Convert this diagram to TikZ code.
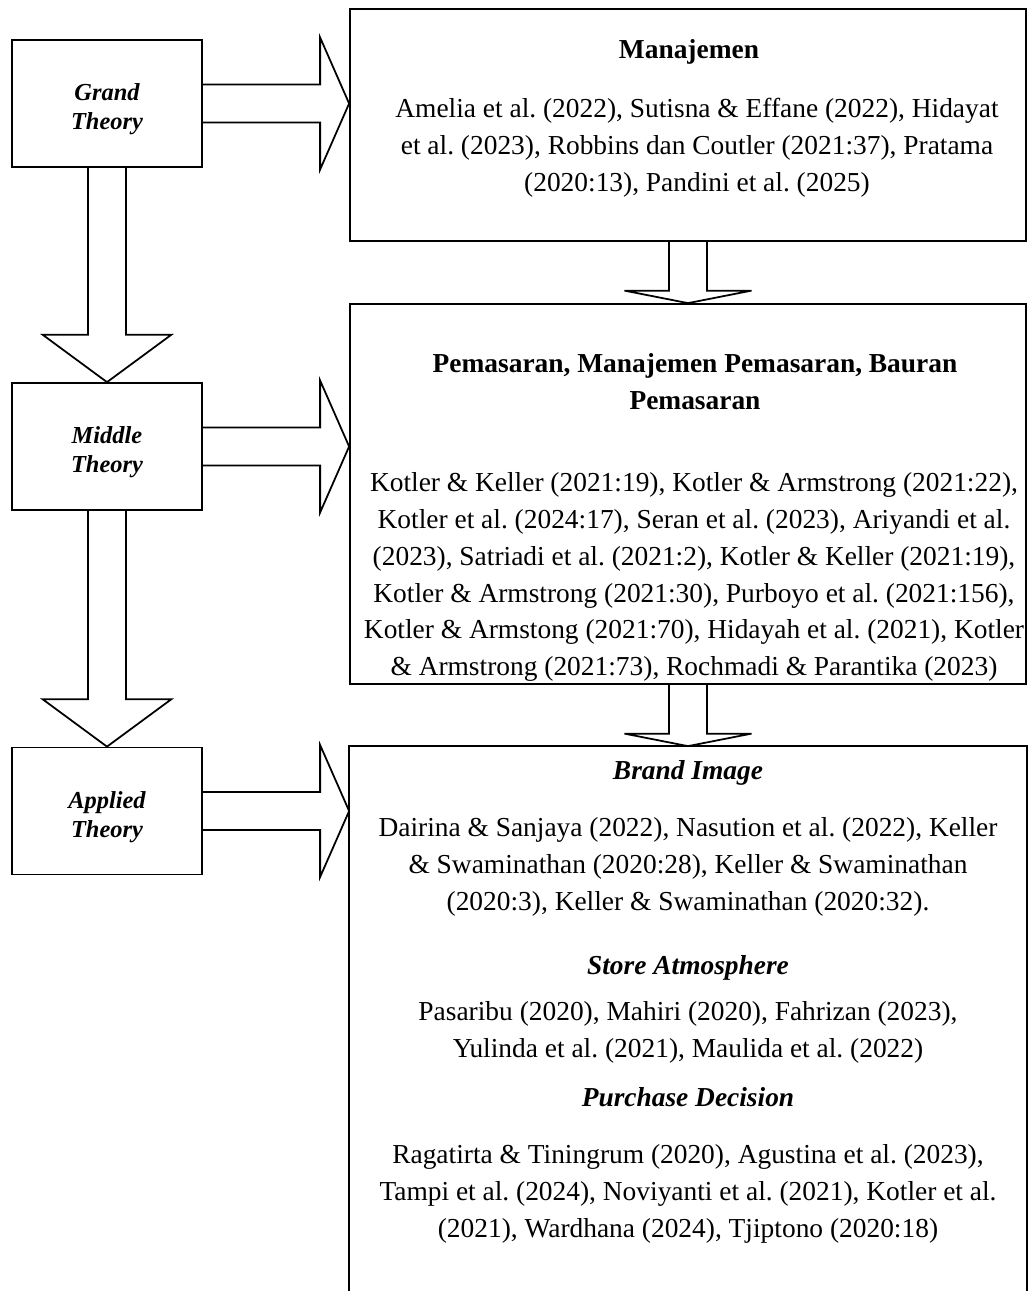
\documentclass[tikz,border=0pt]{standalone}
\usepackage{fontspec}
\setmainfont{Liberation Serif}
\usetikzlibrary{calc}
\frenchspacing

\tikzset{
  theorybox/.style={draw, line width=1pt, minimum width=3.8cm, minimum height=2.54cm, align=center, font=\fontsize{13.9}{16.5}\selectfont\bfseries\itshape},
  refbox/.style={draw, line width=1pt, minimum width=13.52cm},
  reftext/.style={align=center, inner sep=0pt, font=\fontsize{15.6}{21}\selectfont},
  reftitle/.style={reftext, font=\fontsize{15.6}{21}\selectfont\bfseries},
  vartitle/.style={reftext, font=\fontsize{15.6}{21}\selectfont\bfseries\itshape},
  blockarrow/.style={draw, line width=1pt, line join=miter}
}

\begin{document}
\begin{tikzpicture}
\useasboundingbox (0,0) rectangle (20.64,-25.82);
% theory levels
\node[theorybox] (grand) at (2.14,-2.07) {\rule{0pt}{0.57cm}Grand\\Theory};
\node[theorybox] (middle) at (2.14,-8.93) {\rule{0pt}{0.57cm}Middle\\Theory};
\node[theorybox] (applied) at (2.14,-16.22) {\rule{0pt}{0.57cm}Applied\\Theory};
% references
\node[refbox, minimum height=4.64cm] (mgmt) at (13.76,-2.5) {};
\node[refbox, minimum height=7.6cm] (mkt) at (13.76,-9.88) {};
\node[refbox, minimum height=10.88cm, draw=none] (brand) at (13.76,-20.38) {};
\draw[line width=1pt] (brand.south west) -- (brand.north west) -- (brand.north east) -- (brand.south east);
% block arrows
\foreach \a/\b in {grand/mgmt, middle/mkt, applied/brand}
  \draw[blockarrow] ($(\a.east)+(0,0.38)$) -- ($(\b.west|-\a.east)+(-0.58,0.38)$) -- ++(0,0.94) -- (\b.west|-\a.east) -- ++(-0.58,-1.32) -- ++(0,0.94) -- ($(\a.east)+(0,-0.38)$);
\foreach \a/\b in {grand/middle, middle/applied}
  \draw[blockarrow] ($(\a.south)+(-0.38,0)$) -- ($(\b.north)+(-0.38,0.95)$) -- ++(-0.91,0) -- (\b.north) -- ++(1.29,0.95) -- ++(-0.91,0) -- ($(\a.south)+(0.38,0)$);
\foreach \a/\b in {mgmt/mkt, mkt/brand}
  \draw[blockarrow] ($(\a.south)+(-0.38,0)$) -- ($(\b.north)+(-0.38,0.25)$) -- ++(-0.89,0) -- (\b.north) -- ++(1.27,0.25) -- ++(-0.89,0) -- ($(\a.south)+(0.38,0)$);
% texts
\node[reftitle] (mgmttitle) at (13.78,-1.04) {Manajemen};
\node[reftext] (mgmtrefs) at (13.94,-2.95) {Amelia et al. (2022), Sutisna \& Effane (2022), Hidayat\\et al. (2023), Robbins dan Coutler (2021:37), Pratama\\(2020:13), Pandini et al. (2025)};
\node[reftitle] (mkttitle) at (13.9,-7.63) {Pemasaran, Manajemen Pemasaran, Bauran\\Pemasaran};
\node[reftext] (mktrefs) at (13.88,-11.54) {Kotler \& Keller (2021:19), Kotler \& Armstrong (2021:22),\\Kotler et al. (2024:17), Seran et al. (2023), Ariyandi et al.\\(2023), Satriadi et al. (2021:2), Kotler \& Keller (2021:19),\\Kotler \& Armstrong (2021:30), Purboyo et al. (2021:156),\\Kotler \& Armstong (2021:70), Hidayah et al. (2021), Kotler\\\& Armstrong (2021:73), Rochmadi \& Parantika (2023)};
\node[vartitle] (bititle) at (13.76,-15.45) {Brand Image};
\node[reftext] (birefs) at (13.76,-17.33) {Dairina \& Sanjaya (2022), Nasution et al. (2022), Keller\\\& Swaminathan (2020:28), Keller \& Swaminathan\\(2020:3), Keller \& Swaminathan (2020:32).};
\node[vartitle] (satitle) at (13.76,-19.35) {Store Atmosphere};
\node[reftext] (sarefs) at (13.76,-20.65) {Pasaribu (2020), Mahiri (2020), Fahrizan (2023),\\Yulinda et al. (2021), Maulida et al. (2022)};
\node[vartitle] (pdtitle) at (13.76,-21.95) {Purchase Decision};
\node[reftext] (pdrefs) at (13.76,-23.88) {Ragatirta \& Tiningrum (2020), Agustina et al. (2023),\\Tampi et al. (2024), Noviyanti et al. (2021), Kotler et al.\\(2021), Wardhana (2024), Tjiptono (2020:18)};
\end{tikzpicture}
\end{document}
